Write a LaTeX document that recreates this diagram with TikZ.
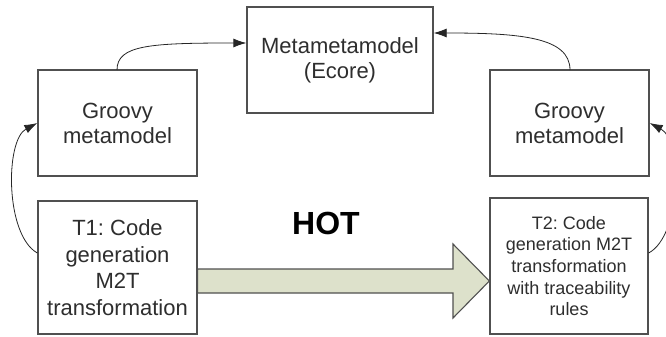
\documentclass[tikz,border=0pt]{standalone}
\usepackage{fontspec}
\setmainfont{Liberation Sans}
\usetikzlibrary{arrows.meta}
\definecolor{boxline}{HTML}{505050}
\definecolor{txtgray}{HTML}{2E2E2E}
\definecolor{hotfill}{HTML}{DDE1CB}
\frenchspacing
\begin{document}
\begin{tikzpicture}[x=1pt,y=-1pt,
  model/.style={draw=boxline, line width=1.3pt, fill=white, rectangle, inner sep=0pt,
    align=center, text=txtgray, font=\fontsize{22}{25}\selectfont},
  link/.style={draw=black!85, line width=0.8pt, -{Latex[length=13pt,width=9pt]}},
  hotarrow/.style={draw=boxline, line width=1.1pt, fill=hotfill, line join=miter}]
\useasboundingbox (0,0) rectangle (666,337);

% metamodel hierarchy
\node[model, minimum width=186pt, minimum height=106pt] (mmm) at (340,60) {Metametamodel\\(Ecore)};
\node[model, minimum width=159pt, minimum height=106pt] (gl) at (117.5,123) {Groovy\\metamodel};
\node[model, minimum width=159pt, minimum height=106pt] (gr) at (569.5,123) {Groovy\\metamodel};

% transformations
\node[model, minimum width=159pt, minimum height=133pt, font=\fontsize{22}{26.5}\selectfont]
  (t1) at (117.5,267.5) {T1: Code\\generation\\M2T\\transformation};
\node[model, minimum width=158pt, minimum height=136pt, font=\fontsize{18}{21.6}\selectfont]
  (t2) at (569,266) {T2: Code\\generation M2T\\transformation\\with traceability\\rules};

% conformance links
\coordinate (glt) at (117,70);
\coordinate (grt) at (570,70);
\draw[link] (glt) .. controls (117,45) and (150,43) .. (mmm.west |- 0,43);
\draw[link] (grt) .. controls (570,37) and (520,33) .. (mmm.east |- 0,33);
\draw[link] (t1.west |- 0,253) .. controls (5,235) and (5,140) .. (gl.west |- 0,123);
\draw[link] (t2.east |- 0,253) .. controls (682,235) and (682,140) .. (gr.east |- 0,123);

% higher-order transformation arrow
\coordinate (hs) at (453,269);
\coordinate (hb) at (453,293);
\draw[hotarrow] (t1.east |- hs) -- (hs) -- (453,244) -- (t2.west |- 0,281)
  -- (453,318) -- (hb) -- (t1.east |- hb) -- cycle;
\node[font=\fontsize{32}{32}\selectfont\bfseries, text=black] (hot) at (326,223) {HOT};
\end{tikzpicture}
\end{document}
